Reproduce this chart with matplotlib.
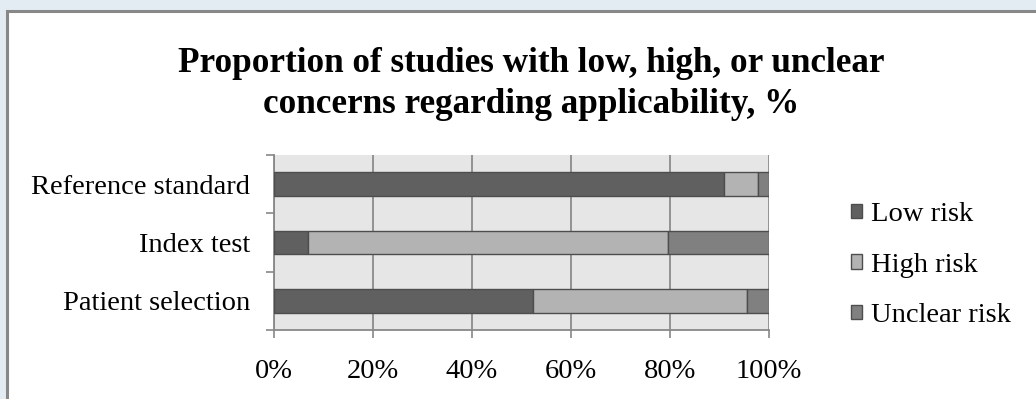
import matplotlib
matplotlib.use("Agg")
import matplotlib.pyplot as plt
from matplotlib.patches import Rectangle
import numpy as np

# Domains (bottom to top) and share of studies per concern level, %
domains = ["Patient selection", "Index test", "Reference standard"]
low_risk = [52.3, 6.8, 90.9]
high_risk = [43.2, 72.7, 6.8]
unclear_risk = [4.5, 20.5, 2.3]
series_names = ["Low risk", "High risk", "Unclear risk"]
series_colors = ["#606060", "#b3b3b3", "#808080"]
x_ticks = [0, 20, 40, 60, 80, 100]
x_tick_labels = ["0%", "20%", "40%", "60%", "80%", "100%"]
title = "Proportion of studies with low, high, or unclear\nconcerns regarding applicability, %"

plt.rcParams["font.family"] = ["Liberation Serif", "DejaVu Serif"]
LABEL_SIZE = 20.5

fig = plt.figure(figsize=(10.36, 3.99), dpi=100)
fig.patch.set_facecolor("#e3ebf3")

# White chart panel with grey frame
W, H = 1036, 399
panel = Rectangle((7 / W, -0.2), 1.2, 1.2 - 11 / H, transform=fig.transFigure,
                  facecolor="white", edgecolor="#888888", linewidth=2.2,
                  zorder=-1)
fig.patches.append(panel)

ax = fig.add_axes([274 / W, 1 - 330 / H, (769 - 274) / W, (330 - 155) / H])
ax.set_zorder(2)
ax.set_facecolor("#e6e6e6")

y = np.arange(len(domains))
left = np.zeros(len(domains))
for vals, name, col in zip([low_risk, high_risk, unclear_risk], series_names, series_colors):
    ax.barh(y, vals, left=left, height=0.4, color=col, edgecolor="#4d4d4d",
            linewidth=1.0, label=name, zorder=3)
    left = left + np.array(vals)

ax.set_xlim(0, 100)
ax.set_ylim(-0.5, len(domains) - 0.5)
ax.set_xticks(x_ticks)
ax.set_xticklabels(x_tick_labels, fontsize=LABEL_SIZE)
ax.set_yticks(y)
ax.set_yticklabels(domains, fontsize=LABEL_SIZE)
ax.tick_params(axis="y", length=0, pad=17)
ax.set_yticks(np.arange(-0.5, len(domains)), minor=True)
ax.tick_params(axis="y", which="minor", length=6, color="#888888", width=1.2)
ax.tick_params(axis="x", length=6, color="#888888", width=1.2, pad=15)

ax.grid(axis="x", color="#8c8c8c", linewidth=1.3, zorder=1)
for s in ["top", "right"]:
    ax.spines[s].set_visible(False)
for s in ["left", "bottom"]:
    ax.spines[s].set_color("#888888")
    ax.spines[s].set_linewidth(1.3)

fig.text(531 / W, 1 - 84 / H, title, ha="center", va="center", fontsize=25.3,
         fontweight="bold", linespacing=1.3)

handles, labels = ax.get_legend_handles_labels()
leg = fig.legend(handles, labels, loc="center left",
                 bbox_to_anchor=(825 / W, 1 - 265 / H), frameon=False,
                 fontsize=LABEL_SIZE, handlelength=0.4, handleheight=0.4,
                 handletextpad=0.3, labelspacing=0.9)
for h in leg.legend_handles:
    h.set_edgecolor("#4d4d4d")

fig.savefig("out.png", dpi=100)
